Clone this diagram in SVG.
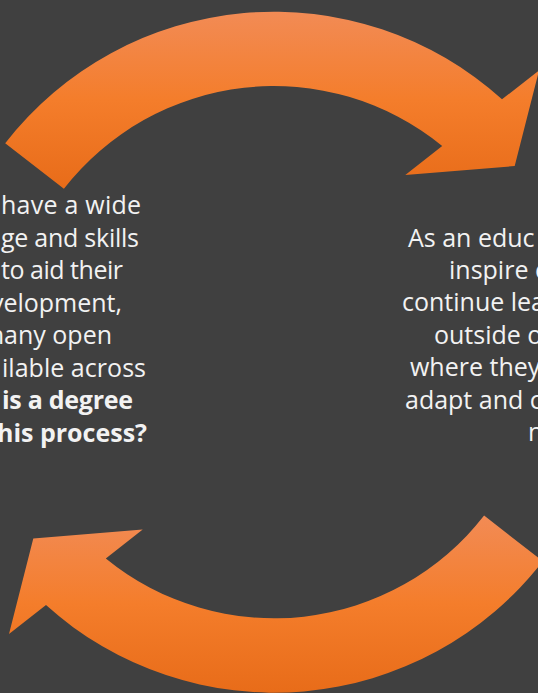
<svg xmlns="http://www.w3.org/2000/svg" width="538" height="693" viewBox="0 0 538 693">
  <defs>
    <linearGradient id="orange" x1="0" y1="0" x2="0" y2="1">
      <stop offset="0" stop-color="#F28B55"/>
      <stop offset="0.5" stop-color="#F47D2B"/>
      <stop offset="1" stop-color="#E86C19"/>
    </linearGradient>
  </defs>
  <style>
    .arrow { fill: url(#orange); }
    .t { font-family: "Open Sans", "Noto Sans", "Liberation Sans", sans-serif; font-size: 25px; fill: #F2F2F2; }
    .b { font-weight: bold; }
    .l { text-anchor: end; }
    .r { text-anchor: start; }
  </style>
  <rect x="0" y="0" width="538" height="693" fill="#404040"/>
  <g id="arrow-top">
    <path class="arrow" d="M 5.2 143.2 A 340.5 340.5 0 0 1 502 99.3 L 539 70.5 L 514.7 166 L 405.3 175 L 442.2 145.9 A 266.2 266.2 0 0 0 63.9 188.8 Z"/>
  </g>
  <g id="arrow-bottom">
    <path class="arrow" d="M 542.8 561.2 A 340.5 340.5 0 0 1 46 605.1 L 9 633.9 L 33.3 538.4 L 142.7 529.4 L 105.8 558.5 A 266.2 266.2 0 0 0 484.1 515.6 Z"/>
  </g>
  <g id="text-left" class="t">
    <text class="t l" x="141" y="214" textLength="140" lengthAdjust="spacing">have a wide</text>
    <text class="t l" x="139" y="246.5" textLength="138" lengthAdjust="spacing">ge and skills</text>
    <text class="t l" x="123" y="279" textLength="122" lengthAdjust="spacing">to aid their</text>
    <text class="t l" x="122" y="311.5">velopment,</text>
    <text class="t l" x="112" y="344">many open</text>
    <text class="t l" x="146" y="376.5" textLength="144" lengthAdjust="spacing">ilable across</text>
    <text class="t l b" x="133" y="409" textLength="131" lengthAdjust="spacing">is a degree</text>
    <text class="t l b" x="147" y="441.5">this process?</text>
  </g>
  <g id="text-right" class="t">
    <text class="t r" x="408" y="246.5">As an educ</text>
    <text class="t r" x="449" y="279">inspire o</text>
    <text class="t r" x="402" y="311">continue lea</text>
    <text class="t r" x="434" y="343.5">outside o</text>
    <text class="t r" x="410" y="376">where they</text>
    <text class="t r" x="405" y="408.5">adapt and c</text>
    <text class="t r" x="528" y="441">n</text>
  </g>
</svg>
